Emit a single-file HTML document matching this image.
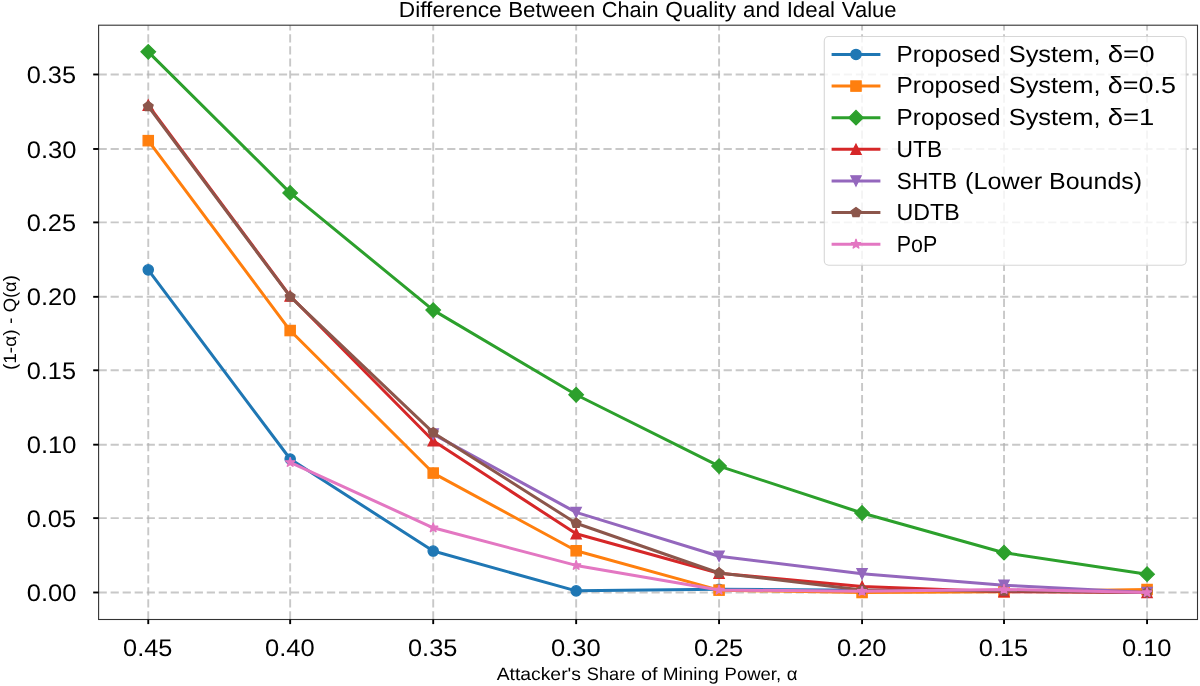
<!DOCTYPE html><html><head><meta charset="utf-8"><title>Difference Between Chain Quality and Ideal Value</title><style>html,body{margin:0;padding:0;background:#fff;}svg{display:block;filter:blur(0.4px);}text{font-family:"Liberation Sans",sans-serif;fill:#000;text-rendering:geometricPrecision;}</style></head><body>
<svg width="1200" height="686" viewBox="0 0 1200 686">
<rect width="1200" height="686" fill="#fff"/>
<g stroke="#b0b0b0" stroke-opacity="0.7" stroke-width="1.9" stroke-dasharray="8.2 3.82" fill="none">
<line x1="148.26" y1="619.5" x2="148.26" y2="25.2"/>
<line x1="290.16" y1="619.5" x2="290.16" y2="25.2"/>
<line x1="433.2" y1="619.5" x2="433.2" y2="25.2"/>
<line x1="576.16" y1="619.5" x2="576.16" y2="25.2"/>
<line x1="719.07" y1="619.5" x2="719.07" y2="25.2"/>
<line x1="862.07" y1="619.5" x2="862.07" y2="25.2"/>
<line x1="1004.02" y1="619.5" x2="1004.02" y2="25.2"/>
<line x1="1147.07" y1="619.5" x2="1147.07" y2="25.2"/>
<line x1="98.6" y1="592.5" x2="1197.5" y2="592.5"/>
<line x1="98.6" y1="518.12" x2="1197.5" y2="518.12"/>
<line x1="98.6" y1="444.68" x2="1197.5" y2="444.68"/>
<line x1="98.6" y1="370.28" x2="1197.5" y2="370.28"/>
<line x1="98.6" y1="296.82" x2="1197.5" y2="296.82"/>
<line x1="98.6" y1="222.4" x2="1197.5" y2="222.4"/>
<line x1="98.6" y1="148.98" x2="1197.5" y2="148.98"/>
<line x1="98.6" y1="74.47" x2="1197.5" y2="74.47"/>
</g>
<g clip-path="url(#ax)">
<defs><clipPath id="ax"><rect x="98.6" y="25.2" width="1098.9" height="594.3"/></clipPath></defs>
<polyline points="148.26,269.86 290.16,459 433.2,551.06 576.16,590.87 719.07,589.24 862.07,590.28 1004.02,590.72 1147.07,591.02" fill="none" stroke="#1f77b4" stroke-width="3.0" stroke-linejoin="round" stroke-linecap="butt"/>
<circle cx="148.26" cy="269.86" r="5.15" fill="#1f77b4" stroke="#1f77b4" stroke-width="1.25"/>
<circle cx="290.16" cy="459" r="5.15" fill="#1f77b4" stroke="#1f77b4" stroke-width="1.25"/>
<circle cx="433.2" cy="551.06" r="5.15" fill="#1f77b4" stroke="#1f77b4" stroke-width="1.25"/>
<circle cx="576.16" cy="590.87" r="5.15" fill="#1f77b4" stroke="#1f77b4" stroke-width="1.25"/>
<circle cx="719.07" cy="589.24" r="5.15" fill="#1f77b4" stroke="#1f77b4" stroke-width="1.25"/>
<circle cx="862.07" cy="590.28" r="5.15" fill="#1f77b4" stroke="#1f77b4" stroke-width="1.25"/>
<circle cx="1004.02" cy="590.72" r="5.15" fill="#1f77b4" stroke="#1f77b4" stroke-width="1.25"/>
<circle cx="1147.07" cy="591.02" r="5.15" fill="#1f77b4" stroke="#1f77b4" stroke-width="1.25"/>
<polyline points="148.26,140.66 290.16,330.54 433.2,473.06 576.16,550.76 719.07,590.13 862.07,592.5 1004.02,591.76 1147.07,589.54" fill="none" stroke="#ff7f0e" stroke-width="3.0" stroke-linejoin="round" stroke-linecap="butt"/>
<rect x="143.11" y="135.51" width="10.3" height="10.3" fill="#ff7f0e" stroke="#ff7f0e" stroke-width="1.25" stroke-linejoin="miter"/>
<rect x="285.01" y="325.39" width="10.3" height="10.3" fill="#ff7f0e" stroke="#ff7f0e" stroke-width="1.25" stroke-linejoin="miter"/>
<rect x="428.05" y="467.91" width="10.3" height="10.3" fill="#ff7f0e" stroke="#ff7f0e" stroke-width="1.25" stroke-linejoin="miter"/>
<rect x="571.01" y="545.61" width="10.3" height="10.3" fill="#ff7f0e" stroke="#ff7f0e" stroke-width="1.25" stroke-linejoin="miter"/>
<rect x="713.92" y="584.98" width="10.3" height="10.3" fill="#ff7f0e" stroke="#ff7f0e" stroke-width="1.25" stroke-linejoin="miter"/>
<rect x="856.92" y="587.35" width="10.3" height="10.3" fill="#ff7f0e" stroke="#ff7f0e" stroke-width="1.25" stroke-linejoin="miter"/>
<rect x="998.87" y="586.61" width="10.3" height="10.3" fill="#ff7f0e" stroke="#ff7f0e" stroke-width="1.25" stroke-linejoin="miter"/>
<rect x="1141.92" y="584.39" width="10.3" height="10.3" fill="#ff7f0e" stroke="#ff7f0e" stroke-width="1.25" stroke-linejoin="miter"/>
<polyline points="148.26,51.86 290.16,192.9 433.2,310.12 576.16,394.77 719.07,466.11 862.07,513.02 1004.02,552.69 1147.07,574.15" fill="none" stroke="#2ca02c" stroke-width="3.0" stroke-linejoin="round" stroke-linecap="butt"/>
<polygon points="148.26,44.57 155.54,51.86 148.26,59.14 140.98,51.86" fill="#2ca02c" stroke="#2ca02c" stroke-width="1.25" stroke-linejoin="miter"/>
<polygon points="290.16,185.62 297.44,192.9 290.16,200.18 282.88,192.9" fill="#2ca02c" stroke="#2ca02c" stroke-width="1.25" stroke-linejoin="miter"/>
<polygon points="433.2,302.83 440.48,310.12 433.2,317.4 425.92,310.12" fill="#2ca02c" stroke="#2ca02c" stroke-width="1.25" stroke-linejoin="miter"/>
<polygon points="576.16,387.49 583.44,394.77 576.16,402.06 568.88,394.77" fill="#2ca02c" stroke="#2ca02c" stroke-width="1.25" stroke-linejoin="miter"/>
<polygon points="719.07,458.82 726.35,466.11 719.07,473.39 711.79,466.11" fill="#2ca02c" stroke="#2ca02c" stroke-width="1.25" stroke-linejoin="miter"/>
<polygon points="862.07,505.74 869.35,513.02 862.07,520.31 854.79,513.02" fill="#2ca02c" stroke="#2ca02c" stroke-width="1.25" stroke-linejoin="miter"/>
<polygon points="1004.02,545.4 1011.3,552.69 1004.02,559.97 996.74,552.69" fill="#2ca02c" stroke="#2ca02c" stroke-width="1.25" stroke-linejoin="miter"/>
<polygon points="1147.07,566.86 1154.35,574.15 1147.07,581.43 1139.79,574.15" fill="#2ca02c" stroke="#2ca02c" stroke-width="1.25" stroke-linejoin="miter"/>
<polyline points="148.26,105.14 290.16,296.06 433.2,440.8 576.16,533.74 719.07,573.26 862.07,586.43 1004.02,591.76 1147.07,592.5" fill="none" stroke="#d62728" stroke-width="3.0" stroke-linejoin="round" stroke-linecap="butt"/>
<polygon points="148.26,99.99 153.41,110.29 143.11,110.29" fill="#d62728" stroke="#d62728" stroke-width="1.25" stroke-linejoin="miter"/>
<polygon points="290.16,290.91 295.31,301.21 285.01,301.21" fill="#d62728" stroke="#d62728" stroke-width="1.25" stroke-linejoin="miter"/>
<polygon points="433.2,435.65 438.35,445.95 428.05,445.95" fill="#d62728" stroke="#d62728" stroke-width="1.25" stroke-linejoin="miter"/>
<polygon points="576.16,528.59 581.31,538.89 571.01,538.89" fill="#d62728" stroke="#d62728" stroke-width="1.25" stroke-linejoin="miter"/>
<polygon points="719.07,568.11 724.22,578.41 713.92,578.41" fill="#d62728" stroke="#d62728" stroke-width="1.25" stroke-linejoin="miter"/>
<polygon points="862.07,581.28 867.22,591.58 856.92,591.58" fill="#d62728" stroke="#d62728" stroke-width="1.25" stroke-linejoin="miter"/>
<polygon points="1004.02,586.61 1009.17,596.91 998.87,596.91" fill="#d62728" stroke="#d62728" stroke-width="1.25" stroke-linejoin="miter"/>
<polygon points="1147.07,587.35 1152.22,597.65 1141.92,597.65" fill="#d62728" stroke="#d62728" stroke-width="1.25" stroke-linejoin="miter"/>
<polyline points="433.2,434.14 576.16,512.43 719.07,556.24 862.07,573.85 1004.02,585.25 1147.07,592.5" fill="none" stroke="#9467bd" stroke-width="3.0" stroke-linejoin="round" stroke-linecap="butt"/>
<polygon points="433.2,439.29 438.35,428.99 428.05,428.99" fill="#9467bd" stroke="#9467bd" stroke-width="1.25" stroke-linejoin="miter"/>
<polygon points="576.16,517.58 581.31,507.28 571.01,507.28" fill="#9467bd" stroke="#9467bd" stroke-width="1.25" stroke-linejoin="miter"/>
<polygon points="719.07,561.39 724.22,551.09 713.92,551.09" fill="#9467bd" stroke="#9467bd" stroke-width="1.25" stroke-linejoin="miter"/>
<polygon points="862.07,579 867.22,568.7 856.92,568.7" fill="#9467bd" stroke="#9467bd" stroke-width="1.25" stroke-linejoin="miter"/>
<polygon points="1004.02,590.4 1009.17,580.1 998.87,580.1" fill="#9467bd" stroke="#9467bd" stroke-width="1.25" stroke-linejoin="miter"/>
<polygon points="1147.07,597.65 1152.22,587.35 1141.92,587.35" fill="#9467bd" stroke="#9467bd" stroke-width="1.25" stroke-linejoin="miter"/>
<polyline points="148.26,106.47 290.16,296.65 433.2,432.66 576.16,523.24 719.07,572.96 862.07,589.98 1004.02,591.02 1147.07,592.5" fill="none" stroke="#8c564b" stroke-width="3.0" stroke-linejoin="round" stroke-linecap="butt"/>
<polygon points="148.26,101.32 143.36,104.88 145.23,110.63 151.29,110.63 153.16,104.88" fill="#8c564b" stroke="#8c564b" stroke-width="1.25" stroke-linejoin="miter"/>
<polygon points="290.16,291.5 285.26,295.06 287.13,300.81 293.19,300.81 295.06,295.06" fill="#8c564b" stroke="#8c564b" stroke-width="1.25" stroke-linejoin="miter"/>
<polygon points="433.2,427.51 428.3,431.07 430.17,436.83 436.23,436.83 438.1,431.07" fill="#8c564b" stroke="#8c564b" stroke-width="1.25" stroke-linejoin="miter"/>
<polygon points="576.16,518.09 571.26,521.64 573.13,527.4 579.19,527.4 581.06,521.64" fill="#8c564b" stroke="#8c564b" stroke-width="1.25" stroke-linejoin="miter"/>
<polygon points="719.07,567.81 714.17,571.37 716.04,577.13 722.1,577.13 723.97,571.37" fill="#8c564b" stroke="#8c564b" stroke-width="1.25" stroke-linejoin="miter"/>
<polygon points="862.07,584.83 857.17,588.39 859.04,594.15 865.1,594.15 866.97,588.39" fill="#8c564b" stroke="#8c564b" stroke-width="1.25" stroke-linejoin="miter"/>
<polygon points="1004.02,585.87 999.12,589.43 1000.99,595.19 1007.05,595.19 1008.92,589.43" fill="#8c564b" stroke="#8c564b" stroke-width="1.25" stroke-linejoin="miter"/>
<polygon points="1147.07,587.35 1142.17,590.91 1144.04,596.67 1150.1,596.67 1151.97,590.91" fill="#8c564b" stroke="#8c564b" stroke-width="1.25" stroke-linejoin="miter"/>
<polyline points="290.16,462.41 433.2,527.82 576.16,565.42 719.07,589.98 862.07,591.32 1004.02,589.39 1147.07,592.5" fill="none" stroke="#e377c2" stroke-width="3.0" stroke-linejoin="round" stroke-linecap="butt"/>
<polygon points="290.16,457.26 289,460.82 285.26,460.82 288.29,463.02 287.13,466.57 290.16,464.38 293.19,466.57 292.03,463.02 295.06,460.82 291.32,460.82" fill="#e377c2" stroke="#e377c2" stroke-width="1.25" stroke-linejoin="bevel"/>
<polygon points="433.2,522.67 432.04,526.23 428.3,526.23 431.33,528.43 430.17,531.99 433.2,529.79 436.23,531.99 435.07,528.43 438.1,526.23 434.36,526.23" fill="#e377c2" stroke="#e377c2" stroke-width="1.25" stroke-linejoin="bevel"/>
<polygon points="576.16,560.27 575,563.82 571.26,563.82 574.29,566.02 573.13,569.58 576.16,567.38 579.19,569.58 578.03,566.02 581.06,563.82 577.32,563.82" fill="#e377c2" stroke="#e377c2" stroke-width="1.25" stroke-linejoin="bevel"/>
<polygon points="719.07,584.83 717.91,588.39 714.17,588.39 717.2,590.59 716.04,594.15 719.07,591.95 722.1,594.15 720.94,590.59 723.97,588.39 720.23,588.39" fill="#e377c2" stroke="#e377c2" stroke-width="1.25" stroke-linejoin="bevel"/>
<polygon points="862.07,586.17 860.91,589.72 857.17,589.72 860.2,591.92 859.04,595.48 862.07,593.28 865.1,595.48 863.94,591.92 866.97,589.72 863.23,589.72" fill="#e377c2" stroke="#e377c2" stroke-width="1.25" stroke-linejoin="bevel"/>
<polygon points="1004.02,584.24 1002.86,587.8 999.12,587.8 1002.15,590 1000.99,593.56 1004.02,591.36 1007.05,593.56 1005.89,590 1008.92,587.8 1005.18,587.8" fill="#e377c2" stroke="#e377c2" stroke-width="1.25" stroke-linejoin="bevel"/>
<polygon points="1147.07,587.35 1145.91,590.91 1142.17,590.91 1145.2,593.11 1144.04,596.67 1147.07,594.47 1150.1,596.67 1148.94,593.11 1151.97,590.91 1148.23,590.91" fill="#e377c2" stroke="#e377c2" stroke-width="1.25" stroke-linejoin="bevel"/>
</g>
<rect x="98.6" y="25.2" width="1098.9" height="594.3" fill="none" stroke="#333" stroke-width="1.1"/>
<g stroke="#000" stroke-width="1.9">
<line x1="93.2" y1="592.5" x2="98.6" y2="592.5"/>
<line x1="93.2" y1="518.12" x2="98.6" y2="518.12"/>
<line x1="93.2" y1="444.68" x2="98.6" y2="444.68"/>
<line x1="93.2" y1="370.28" x2="98.6" y2="370.28"/>
<line x1="93.2" y1="296.82" x2="98.6" y2="296.82"/>
<line x1="93.2" y1="222.4" x2="98.6" y2="222.4"/>
<line x1="93.2" y1="148.98" x2="98.6" y2="148.98"/>
<line x1="93.2" y1="74.47" x2="98.6" y2="74.47"/>
<line x1="148.26" y1="619.5" x2="148.26" y2="624.1"/>
<line x1="290.16" y1="619.5" x2="290.16" y2="624.1"/>
<line x1="433.2" y1="619.5" x2="433.2" y2="624.1"/>
<line x1="576.16" y1="619.5" x2="576.16" y2="624.1"/>
<line x1="719.07" y1="619.5" x2="719.07" y2="624.1"/>
<line x1="862.07" y1="619.5" x2="862.07" y2="624.1"/>
<line x1="1004.02" y1="619.5" x2="1004.02" y2="624.1"/>
<line x1="1147.07" y1="619.5" x2="1147.07" y2="624.1"/>
</g>
<text x="26.77" y="601.05" font-size="24.00" textLength="49.67" lengthAdjust="spacingAndGlyphs">0.00</text>
<text x="26.78" y="526.67" font-size="24.00" textLength="49.27" lengthAdjust="spacingAndGlyphs">0.05</text>
<text x="26.77" y="453.23" font-size="24.00" textLength="49.67" lengthAdjust="spacingAndGlyphs">0.10</text>
<text x="26.78" y="378.83" font-size="24.00" textLength="49.27" lengthAdjust="spacingAndGlyphs">0.15</text>
<text x="26.77" y="305.37" font-size="24.00" textLength="49.67" lengthAdjust="spacingAndGlyphs">0.20</text>
<text x="26.78" y="230.95" font-size="24.00" textLength="49.27" lengthAdjust="spacingAndGlyphs">0.25</text>
<text x="26.77" y="157.53" font-size="24.00" textLength="49.67" lengthAdjust="spacingAndGlyphs">0.30</text>
<text x="26.78" y="83.02" font-size="24.00" textLength="49.27" lengthAdjust="spacingAndGlyphs">0.35</text>
<text x="123.10" y="655.95" font-size="24.00" textLength="49.27" lengthAdjust="spacingAndGlyphs">0.45</text>
<text x="264.99" y="655.95" font-size="24.00" textLength="49.67" lengthAdjust="spacingAndGlyphs">0.40</text>
<text x="408.04" y="655.95" font-size="24.00" textLength="49.27" lengthAdjust="spacingAndGlyphs">0.35</text>
<text x="550.99" y="655.95" font-size="24.00" textLength="49.67" lengthAdjust="spacingAndGlyphs">0.30</text>
<text x="693.91" y="655.95" font-size="24.00" textLength="49.27" lengthAdjust="spacingAndGlyphs">0.25</text>
<text x="836.90" y="655.95" font-size="24.00" textLength="49.67" lengthAdjust="spacingAndGlyphs">0.20</text>
<text x="978.86" y="655.95" font-size="24.00" textLength="49.27" lengthAdjust="spacingAndGlyphs">0.15</text>
<text x="1121.90" y="655.95" font-size="24.00" textLength="49.67" lengthAdjust="spacingAndGlyphs">0.10</text>
<text x="398.83" y="17.00" font-size="21.80" textLength="102.83" lengthAdjust="spacingAndGlyphs">Difference</text>
<text x="508.15" y="17.00" font-size="21.80" textLength="87.11" lengthAdjust="spacingAndGlyphs">Between</text>
<text x="601.79" y="17.00" font-size="21.80" textLength="56.78" lengthAdjust="spacingAndGlyphs">Chain</text>
<text x="665.19" y="17.00" font-size="21.80" textLength="70.83" lengthAdjust="spacingAndGlyphs">Quality</text>
<text x="743.14" y="17.00" font-size="21.80" textLength="36.95" lengthAdjust="spacingAndGlyphs">and</text>
<text x="786.68" y="17.00" font-size="21.80" textLength="48.37" lengthAdjust="spacingAndGlyphs">Ideal</text>
<text x="841.83" y="17.00" font-size="21.80" textLength="54.69" lengthAdjust="spacingAndGlyphs">Value</text>
<text x="496.65" y="680.10" font-size="17.90" textLength="84.29" lengthAdjust="spacingAndGlyphs">Attacker&#39;s</text>
<text x="586.80" y="680.10" font-size="17.90" textLength="48.60" lengthAdjust="spacingAndGlyphs">Share</text>
<text x="641.00" y="680.10" font-size="17.90" textLength="16.57" lengthAdjust="spacingAndGlyphs">of</text>
<text x="662.77" y="680.10" font-size="17.90" textLength="55.96" lengthAdjust="spacingAndGlyphs">Mining</text>
<text x="724.59" y="680.10" font-size="17.90" textLength="56.59" lengthAdjust="spacingAndGlyphs">Power,</text>
<text x="786.74" y="680.10" font-size="17.90" textLength="10.78" lengthAdjust="spacingAndGlyphs">α</text>
<g transform="translate(15.6,368.9) rotate(-90)">
<text x="-1.19" y="0.00" font-size="17.90" textLength="40.67" lengthAdjust="spacingAndGlyphs">(1-α)</text>
<text x="45.08" y="0.00" font-size="17.90" textLength="6.08" lengthAdjust="spacingAndGlyphs">-</text>
<text x="56.57" y="0.00" font-size="17.90" textLength="37.25" lengthAdjust="spacingAndGlyphs">Q(α)</text>
</g>
<rect x="824.3" y="36.5" width="361.9" height="228.7" rx="4.4" ry="4.4" fill="#fff" fill-opacity="0.8" stroke="#d0d0d0" stroke-opacity="0.85" stroke-width="1.1"/>
<line x1="831.6" y1="54.45" x2="880.4" y2="54.45" stroke="#1f77b4" stroke-width="3.0"/>
<circle cx="856" cy="54.45" r="5.15" fill="#1f77b4" stroke="#1f77b4" stroke-width="1.25"/>
<text x="896.59" y="62.00" font-size="23.40" textLength="104.04" lengthAdjust="spacingAndGlyphs">Proposed</text>
<text x="1008.69" y="62.00" font-size="23.40" textLength="91.80" lengthAdjust="spacingAndGlyphs">System,</text>
<text x="1107.73" y="62.00" font-size="23.40" textLength="46.97" lengthAdjust="spacingAndGlyphs">δ=0</text>
<line x1="831.6" y1="86.07" x2="880.4" y2="86.07" stroke="#ff7f0e" stroke-width="3.0"/>
<rect x="850.85" y="80.92" width="10.3" height="10.3" fill="#ff7f0e" stroke="#ff7f0e" stroke-width="1.25" stroke-linejoin="miter"/>
<text x="896.59" y="93.00" font-size="23.40" textLength="104.04" lengthAdjust="spacingAndGlyphs">Proposed</text>
<text x="1008.69" y="93.00" font-size="23.40" textLength="91.80" lengthAdjust="spacingAndGlyphs">System,</text>
<text x="1107.76" y="93.00" font-size="23.40" textLength="68.22" lengthAdjust="spacingAndGlyphs">δ=0.5</text>
<line x1="831.6" y1="117.69" x2="880.4" y2="117.69" stroke="#2ca02c" stroke-width="3.0"/>
<polygon points="856,110.41 863.28,117.69 856,124.97 848.72,117.69" fill="#2ca02c" stroke="#2ca02c" stroke-width="1.25" stroke-linejoin="miter"/>
<text x="896.59" y="125.00" font-size="23.40" textLength="104.04" lengthAdjust="spacingAndGlyphs">Proposed</text>
<text x="1008.69" y="125.00" font-size="23.40" textLength="91.80" lengthAdjust="spacingAndGlyphs">System,</text>
<text x="1107.74" y="125.00" font-size="23.40" textLength="46.66" lengthAdjust="spacingAndGlyphs">δ=1</text>
<line x1="831.6" y1="149.31" x2="880.4" y2="149.31" stroke="#d62728" stroke-width="3.0"/>
<polygon points="856,144.16 861.15,154.46 850.85,154.46" fill="#d62728" stroke="#d62728" stroke-width="1.25" stroke-linejoin="miter"/>
<text x="896.61" y="157.00" font-size="23.40" textLength="45.50" lengthAdjust="spacingAndGlyphs">UTB</text>
<line x1="831.6" y1="180.93" x2="880.4" y2="180.93" stroke="#9467bd" stroke-width="3.0"/>
<polygon points="856,186.08 861.15,175.78 850.85,175.78" fill="#9467bd" stroke="#9467bd" stroke-width="1.25" stroke-linejoin="miter"/>
<text x="896.85" y="189.00" font-size="23.40" textLength="60.14" lengthAdjust="spacingAndGlyphs">SHTB</text>
<text x="965.02" y="189.00" font-size="23.40" textLength="77.07" lengthAdjust="spacingAndGlyphs">(Lower</text>
<text x="1049.08" y="189.00" font-size="23.40" textLength="93.02" lengthAdjust="spacingAndGlyphs">Bounds)</text>
<line x1="831.6" y1="212.55" x2="880.4" y2="212.55" stroke="#8c564b" stroke-width="3.0"/>
<polygon points="856,207.4 851.1,210.96 852.97,216.72 859.03,216.72 860.9,210.96" fill="#8c564b" stroke="#8c564b" stroke-width="1.25" stroke-linejoin="miter"/>
<text x="896.58" y="220.00" font-size="23.40" textLength="63.07" lengthAdjust="spacingAndGlyphs">UDTB</text>
<line x1="831.6" y1="244.17" x2="880.4" y2="244.17" stroke="#e377c2" stroke-width="3.0"/>
<polygon points="856,239.02 854.84,242.58 851.1,242.58 854.13,244.78 852.97,248.34 856,246.14 859.03,248.34 857.87,244.78 860.9,242.58 857.16,242.58" fill="#e377c2" stroke="#e377c2" stroke-width="1.25" stroke-linejoin="bevel"/>
<text x="896.83" y="252.00" font-size="23.40" textLength="40.49" lengthAdjust="spacingAndGlyphs">PoP</text>
</svg></body></html>
